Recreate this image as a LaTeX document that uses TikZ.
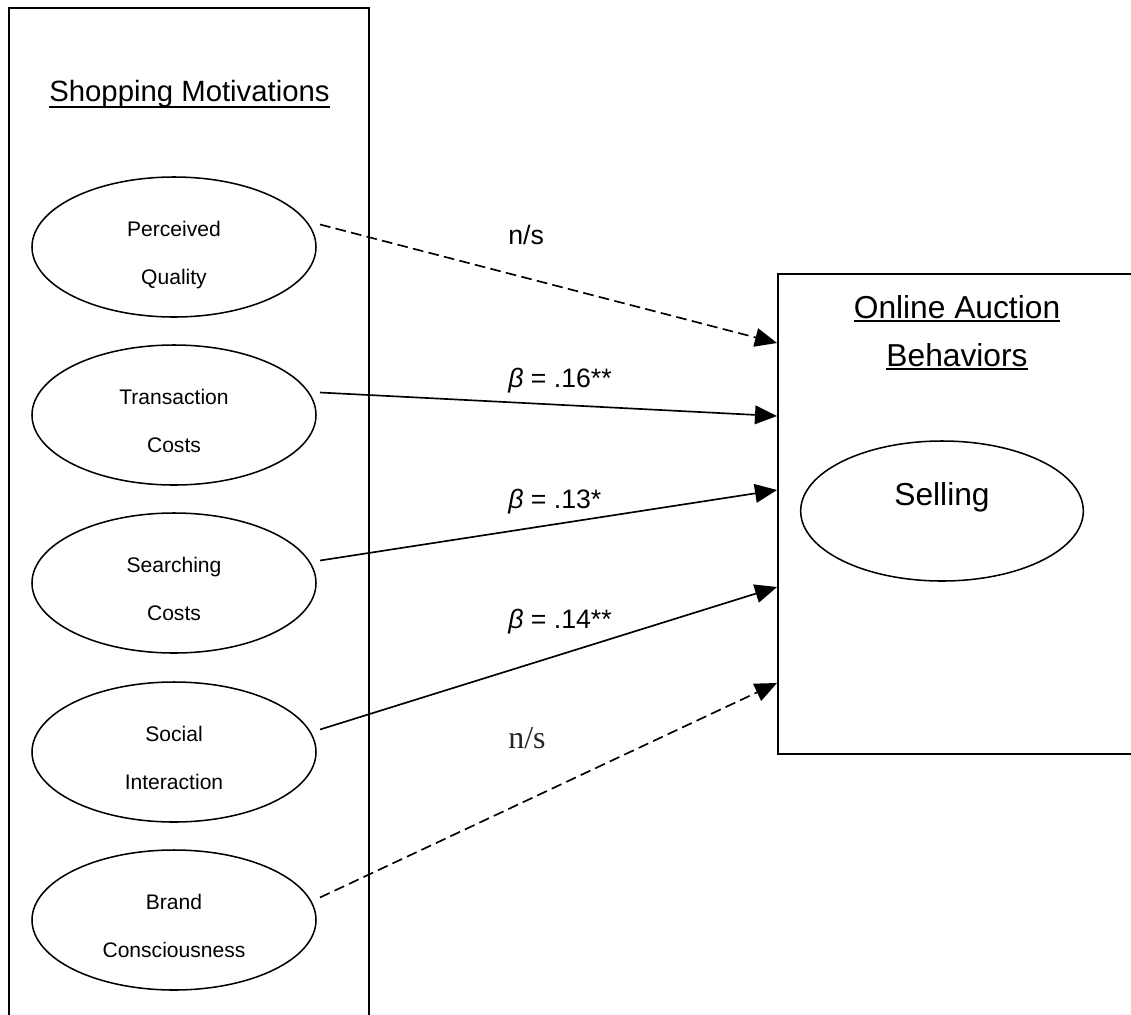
\documentclass[tikz,border=0pt]{standalone}
\usepackage{fontspec}
\setmainfont{Liberation Sans}
\newfontfamily\seriffont{Liberation Serif}
\usetikzlibrary{shapes.geometric, arrows.meta, calc}

\begin{document}
\begin{tikzpicture}[x=0.75pt, y=-0.75pt,
  panel/.style={draw, line width=1.5pt},
  construct/.style={draw, ellipse, line width=1.15pt, minimum width=213pt,
    minimum height=105pt, inner sep=0pt,
    font=\fontsize{15.8}{36}\selectfont, text height=25pt, text depth=40.75pt},
  outcome/.style={draw, ellipse, line width=1.15pt, minimum width=212pt,
    minimum height=105pt, inner sep=0pt,
    font=\fontsize{23.8}{28}\selectfont, text height=12pt, text depth=21pt},
  title/.style={anchor=base, inner sep=0pt},
  uline/.style={line width=1.5pt},
  effect/.style={line width=1.25pt, -{Triangle[length=16.5pt, width=14pt]}},
  nseffect/.style={effect, dash pattern=on 8pt off 4pt},
  coef/.style={anchor=base west, inner sep=0pt, font=\fontsize{20}{24}\selectfont},
]
\useasboundingbox (0,0) rectangle (1131,1014);
\clip (0,0) rectangle (1131,1014);

% left panel: motivations (open at the bottom of the page)
\draw[panel] (9,8) rectangle (369,1040);
\node[title, font=\fontsize{22}{26}\selectfont] (sm) at (189.5,101) {Shopping Motivations};
\draw[uline] ([yshift=-4.5pt]sm.base west) -- ([yshift=-4.5pt]sm.base east);

% motivation constructs
\node[construct] (pq) at (174,247) {\begin{tabular}[t]{@{}c@{}}Perceived\\Quality\end{tabular}};
\node[construct] (tc) at (174,415) {\begin{tabular}[t]{@{}c@{}}Transaction\\Costs\end{tabular}};
\node[construct] (sc) at (174,583) {\begin{tabular}[t]{@{}c@{}}Searching\\Costs\end{tabular}};
\node[construct] (si) at (174,752) {\begin{tabular}[t]{@{}c@{}}Social\\Interaction\end{tabular}};
\node[construct] (bc) at (174,920) {\begin{tabular}[t]{@{}c@{}}Brand\\Consciousness\end{tabular}};

% right panel: auction behaviours
\node[panel, rectangle, anchor=north west, minimum width=273pt, minimum height=360pt,
      inner sep=0pt] (oab) at (777,273) {};
\node[title, font=\fontsize{23.8}{28}\selectfont] (oa1) at (957,318) {Online Auction};
\node[title, font=\fontsize{23.8}{28}\selectfont] (oa2) at (957,366) {Behaviors};
\draw[uline] ([yshift=-2.5pt]oa1.base west) -- ([yshift=-2.5pt]oa1.base east);
\draw[uline] ([yshift=-2.5pt]oa2.base west) -- ([yshift=-2.5pt]oa2.base east);
\node[outcome] (sell) at (942,511) {Selling};

% path start and end points
\foreach \n in {pq,tc,sc,si,bc}
  \coordinate (\n-out) at ($(\n.center)+(146,-22.5)$);
\coordinate (in1) at ($(oab.north west)+(0,70)$);
\coordinate (in2) at ($(oab.north west)+(0,143)$);
\coordinate (in3) at ($(oab.north west)+(0,217)$);
\coordinate (in4) at ($(oab.north west)+(0,314)$);
\coordinate (in5) at ($(oab.north west)+(0,410)$);

% structural paths
\draw[nseffect] (pq-out) -- (in1);
\draw[effect] (tc-out) -- (in2);
\draw[effect] (sc-out) -- (in3);
\draw[effect] (si-out) -- (in4);
\draw[nseffect] (bc-out) -- (in5);

% path coefficients
\node[coef] (l1) at (508,244) {n/s};
\node[coef] (l2) at (508,387) {\textit{β} = .16**};
\node[coef] (l3) at (508,508) {\textit{β} = .13*};
\node[coef] (l4) at (508,628) {\textit{β} = .14**};
\node[coef, font=\seriffont\fontsize{24}{28}\selectfont, text=black!85] (l5) at (508,748) {n/s};
\end{tikzpicture}
\end{document}
